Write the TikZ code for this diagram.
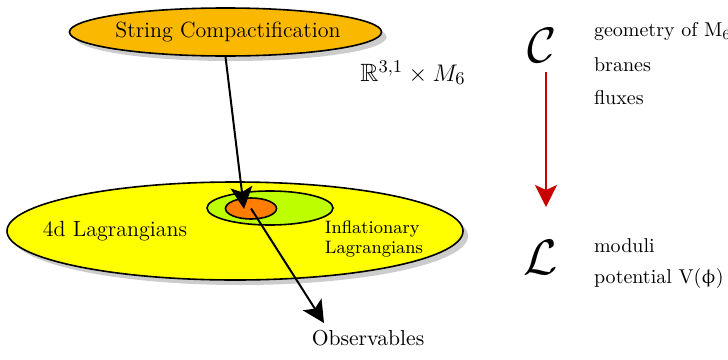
\documentclass[tikz,border=0pt]{standalone}
\usepackage{amsmath, amssymb}
\usepackage{upgreek}
\usepackage{xcolor}
\usetikzlibrary{shapes.geometric, shadows, arrows.meta}

\definecolor{compfill}{RGB}{250,185,0}
\definecolor{lagfill}{RGB}{255,255,0}
\definecolor{inflfill}{RGB}{190,255,0}
\definecolor{corefill}{RGB}{255,125,0}
\definecolor{mapred}{RGB}{200,0,0}

\tikzset{
  blob/.style={ellipse, draw, line width=0.8pt, inner sep=0pt},
  shadowed/.style={drop shadow={opacity=0.4, shadow xshift=2.5pt, shadow yshift=-2.5pt}},
  bigarrow/.style={line width=1pt, -{Stealth[length=11pt, width=11pt, inset=2.5pt]}},
  side/.style={anchor=west, font=\fontsize{10}{12}\selectfont},
  bigcal/.style={font=\fontsize{28}{32}\selectfont}
}

\begin{document}
\begin{tikzpicture}[x=0.5pt, y=-0.5pt]
    \useasboundingbox (0,0) rectangle (728,359);
    % Compactification
    \node[blob, shadowed, fill=compfill, minimum width=156pt, minimum height=24pt] (strc) at (225.5,32) {};
    \node[font=\fontsize{11}{13}\selectfont] (strctxt) at (228,32) {String Compactification};
    \node[font=\fontsize{12.5}{15}\selectfont] (rtimes) at (413,73) {$\mathbb{R}^{3,1}\times M_6$};
    % Lagrangians
    \node[blob, shadowed, fill=lagfill, minimum width=228pt, minimum height=49pt] (lag) at (235,231) {};
    \node[blob, fill=inflfill, minimum width=63pt, minimum height=17pt] (infl) at (270,208) {};
    \node[blob, fill=corefill, minimum width=25.5pt, minimum height=10.5pt] (core) at (251,208.5) {};
    \node[font=\fontsize{11}{13}\selectfont] (lagtxt) at (115,231) {4d Lagrangians};
    \node[font=\fontsize{9}{10}\selectfont, align=left] (infltxt) at (374,239) {Inflationary\\Lagrangians};
    \node[font=\fontsize{10.8}{13}\selectfont] (obs) at (368,338) {Observables};
    % Arrows
    \coordinate (hit) at (244,209);
    \coordinate (obstip) at (324,323);
    \draw[bigarrow] (strc.south) -- (hit);
    \draw[bigarrow] (core.center) -- (obstip);
    % C -> L
    \node[bigcal] (calC) at (542,45) {$\mathcal{C}$};
    \node[bigcal] (calL) at (541,257) {$\mathcal{L}$};
    \coordinate (ctop) at (546,72);
    \coordinate (lbot) at (546,207);
    \draw[bigarrow, mapred] (ctop) -- (lbot);
    \node[side] (geom) at (587,32) {geometry of M$_6$};
    \node[side] (branes) at (587,65) {branes};
    \node[side] (fluxes) at (587,98) {fluxes};
    \node[side] (moduli) at (587,246) {moduli};
    \node[side] (potl) at (587,278) {potential V($\upphi$)};
\end{tikzpicture}
\end{document}
